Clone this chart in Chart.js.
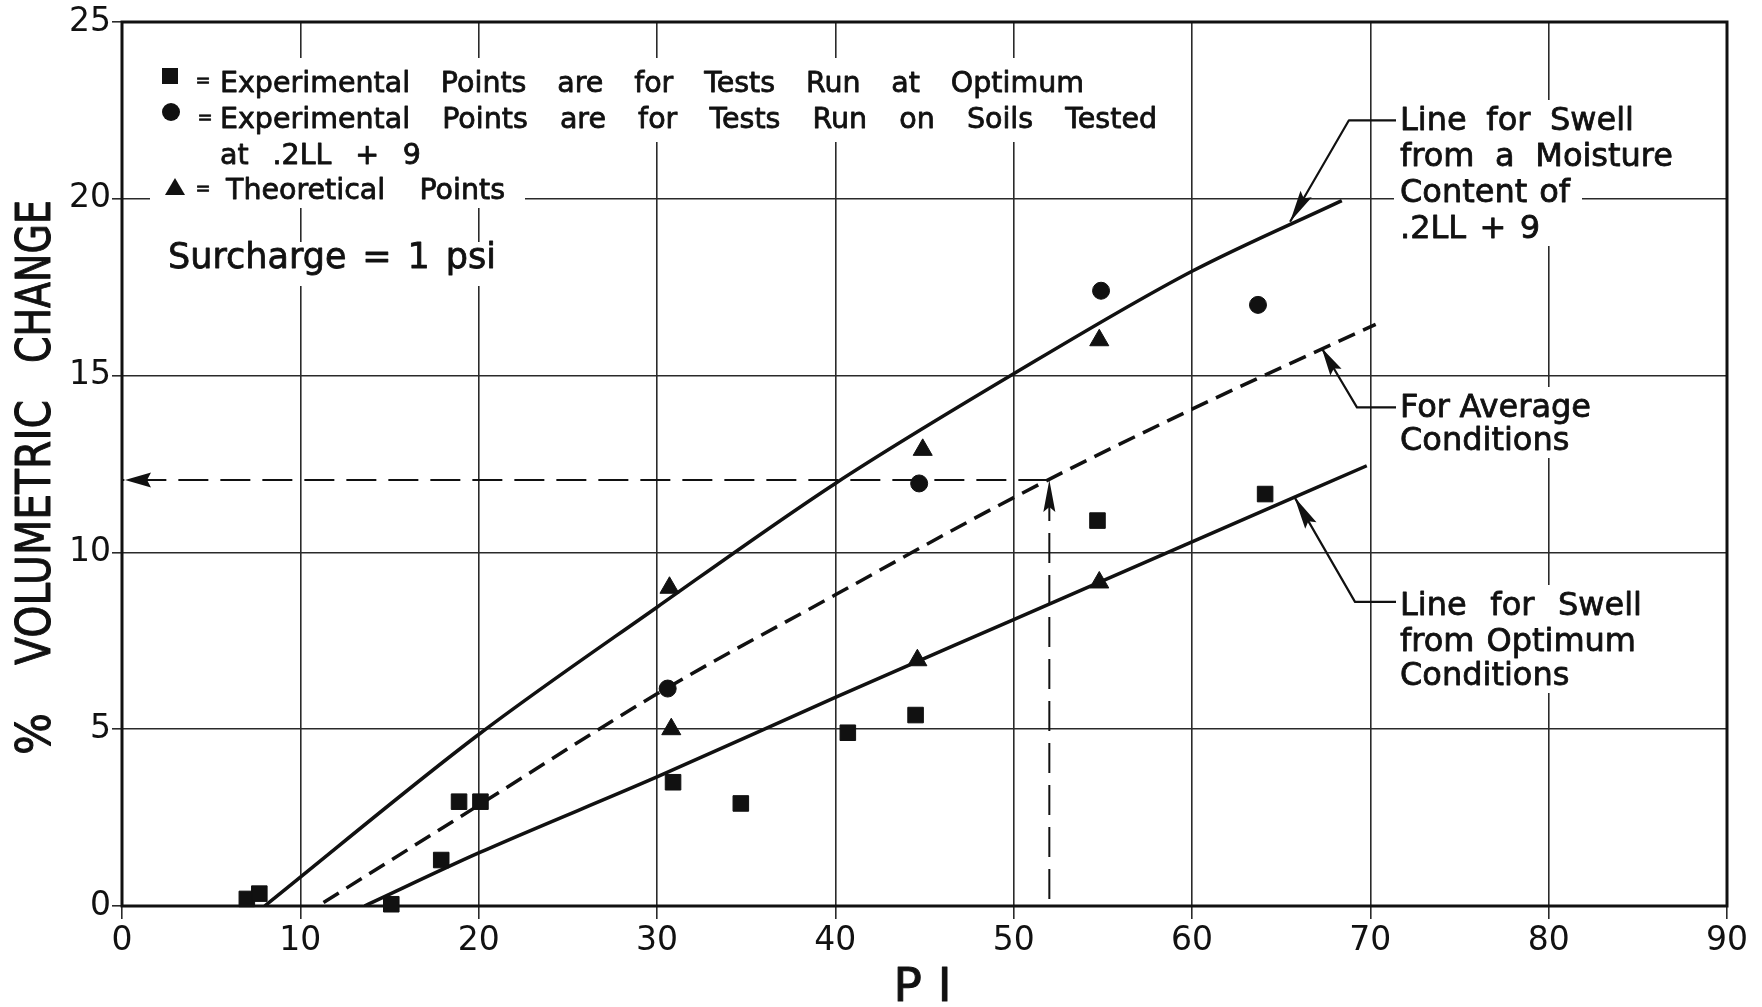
<!DOCTYPE html>
<html>
<head>
<meta charset="utf-8">
<title>% Volumetric change vs PI</title>
<script src="https://cdn.jsdelivr.net/npm/chart.js@4.4.0/dist/chart.umd.min.js"></script>
<style>
  html, body { margin: 0; padding: 0; background: #fff; }
  #swellChart { display: block; }
</style>
</head>
<body>
<canvas id="swellChart" width="1762" height="1007"></canvas>
<script>
// --- THEME ---
const INK = '#111111';
const GRID = '#2a2a2a';
const FONT = "'DejaVu Sans', 'Liberation Sans', sans-serif";

// --- DATA ---
const xTicks = [0, 10, 20, 30, 40, 50, 60, 70, 80, 90];
const yTicks = [0, 5, 10, 15, 20, 25];

// squares: tests run at optimum
const optimumPI  = [7.0, 7.7, 15.1, 17.9, 18.9, 20.1, 30.9, 34.7, 40.7, 44.5, 54.7, 64.1];
const optimumVol = [0.2, 0.35, 0.05, 1.3, 2.95, 2.95, 3.5, 2.9, 4.9, 5.4, 10.9, 11.65];

// circles: tests on soils at .2LL + 9
const moistPI  = [30.6, 44.7, 54.9, 63.7];
const moistVol = [6.15, 11.95, 17.4, 17.0];

// triangles: theoretical points
const theoryPI  = [30.7, 30.8, 44.6, 44.9, 54.8, 54.8];
const theoryVol = [9.0, 5.0, 6.95, 12.9, 9.15, 16.0];

// curves
const upperPI  = [8, 20, 30, 40, 50, 60, 68.4];
const upperVol = [0, 4.85, 8.45, 11.95, 15.05, 17.95, 19.95];
const avgPI    = [11.3, 20, 30, 40, 50, 60, 70.3];
const avgVol   = [0.1, 2.85, 6.0, 8.8, 11.55, 14.05, 16.45];
const lowerPI  = [13.6, 20, 30, 40, 50, 60, 69.8];
const lowerVol = [0, 1.5, 3.65, 5.9, 8.1, 10.3, 12.45];

// example reading: PI 52 -> about 12 %
const readPI  = [52, 52, 0];
const readVol = [0.2, 12.05, 12.05];

// --- ANNOTATION LAYOUT (text in canvas px, leader ends in data units) ---
const LEGEND_ROWS = [
    { mark: 'rect', markAt: [170, 76], eqAt: [203, 86], text: 'Experimental Points are for Tests Run at Optimum', at: [220, 92], width: 864 },
    { mark: 'circle', markAt: [171, 112], eqAt: [205, 123], text: 'Experimental Points are for Tests Run on Soils Tested', at: [220, 128], width: 937 },
    { mark: null, text: 'at .2LL + 9', at: [220, 164], width: 201 },
    { mark: 'triangle', markAt: [175, 188], eqAt: [203, 194], text: 'Theoretical Points', at: [226, 199], width: 279 },
];
const SURCHARGE = { text: 'Surcharge = 1 psi', at: [168, 268], width: 328 };
const LEGEND_MASKS = [[150, 58, 1170, 142], [150, 142, 525, 208], [160, 242, 502, 286]];

const NOTES = [
    { x: 1400, rows: [['Line for Swell', 130, 234], ['from a Moisture', 166, 273], ['Content of', 202, 170], ['.2LL + 9', 238, 140]],
      tip: [65.5, 19.35], elbow: [68.8, 22.22], head: 32 },
    { x: 1400, rows: [['For Average', 417, 191], ['Conditions', 450, 160]],
      tip: [67.27, 15.78], elbow: [69.25, 14.1], head: 28 },
    { x: 1400, rows: [['Line for Swell', 615, 242], ['from Optimum', 651, 236], ['Conditions', 685, 160]],
      tip: [65.74, 11.57], elbow: [69.14, 8.6], head: 33 },
];

const Y_TITLE = [['%', 755, 42], ['VOLUMETRIC', 665, 265], ['CHANGE', 363, 163]];

// --- HELPERS ---
const pts = (xs, ys) => xs.map((x, i) => ({ x: x, y: ys[i] }));

// fill + thin stroke so the lettering looks as heavy as the drafted original
function ink(ctx, text, x, y) {
    ctx.fillText(text, x, y);
    ctx.strokeText(text, x, y);
}

function drawJustified(ctx, text, x, y, width) {
    const words = text.split(' ');
    if (!width || words.length < 2) { ink(ctx, text, x, y); return; }
    const ws = words.map(w => ctx.measureText(w).width);
    const gap = (width - ws.reduce((a, b) => a + b, 0)) / (words.length - 1);
    let cx = x;
    words.forEach((w, i) => { ink(ctx, w, cx, y); cx += ws[i] + gap; });
}

function arrowHead(ctx, tx, ty, fx, fy, len, wid) {
    const a = Math.atan2(ty - fy, tx - fx);
    ctx.save();
    ctx.translate(tx, ty);
    ctx.rotate(a);
    ctx.beginPath();
    ctx.moveTo(0, 0);
    ctx.lineTo(-len, wid / 2);
    ctx.lineTo(-len * 0.85, 0);
    ctx.lineTo(-len, -wid / 2);
    ctx.closePath();
    ctx.fill();
    ctx.restore();
}

function legendMark(ctx, kind, x, y) {
    ctx.beginPath();
    if (kind === 'rect') ctx.rect(x - 8, y - 8, 16, 16);
    if (kind === 'circle') ctx.arc(x, y, 9, 0, Math.PI * 2);
    if (kind === 'triangle') { ctx.moveTo(x, y - 10); ctx.lineTo(x + 10, y + 7); ctx.lineTo(x - 10, y + 7); ctx.closePath(); }
    ctx.fill();
}

// --- PLUGIN: frame, masks, labels, leaders ---
const figureNotes = {
    id: 'figureNotes',
    beforeDatasetsDraw(chart) {
        const { ctx, chartArea: a } = chart;
        ctx.save();
        ctx.fillStyle = '#ffffff';
        LEGEND_MASKS.forEach(([x0, y0, x1, y1]) => ctx.fillRect(x0, y0, x1 - x0, y1 - y0));
        NOTES.forEach(n => n.rows.forEach(([, base, w]) => ctx.fillRect(n.x - 6, base - 30, w + 18, 38)));
        ctx.strokeStyle = INK;
        ctx.lineWidth = 3;
        ctx.strokeRect(a.left, a.top, a.right - a.left, a.bottom - a.top);
        ctx.restore();
    },
    afterDatasetsDraw(chart) {
        const { ctx, chartArea: a, scales: { x, y } } = chart;
        ctx.save();
        ctx.fillStyle = INK;
        ctx.strokeStyle = INK;
        ctx.textAlign = 'left';
        ctx.textBaseline = 'alphabetic';
        ctx.lineJoin = 'round';

        // legend block
        LEGEND_ROWS.forEach(r => {
            ctx.lineWidth = 0.8;
            if (r.mark) {
                legendMark(ctx, r.mark, r.markAt[0], r.markAt[1]);
                ctx.font = `18px ${FONT}`;
                ctx.textAlign = 'center';
                ink(ctx, '=', r.eqAt[0], r.eqAt[1]);
                ctx.textAlign = 'left';
            }
            ctx.font = `28.5px ${FONT}`;
            drawJustified(ctx, r.text, r.at[0], r.at[1], r.width);
        });
        ctx.font = `35px ${FONT}`;
        drawJustified(ctx, SURCHARGE.text, SURCHARGE.at[0], SURCHARGE.at[1], SURCHARGE.width);

        // curve notes with leaders
        NOTES.forEach(n => {
            ctx.font = `32px ${FONT}`;
            ctx.lineWidth = 0.8;
            n.rows.forEach(([t, base, w]) => drawJustified(ctx, t, n.x, base, w));
            const tx = x.getPixelForValue(n.tip[0]), ty = y.getPixelForValue(n.tip[1]);
            const ex = x.getPixelForValue(n.elbow[0]), ey = y.getPixelForValue(n.elbow[1]);
            ctx.lineWidth = 2.2;
            ctx.beginPath();
            ctx.moveTo(n.x - 4, ey);
            ctx.lineTo(ex, ey);
            ctx.lineTo(tx, ty);
            ctx.stroke();
            arrowHead(ctx, tx, ty, ex, ey, n.head, 13);
        });

        // arrowheads on the example reading
        const rp = readPI.map((v, i) => [x.getPixelForValue(v), y.getPixelForValue(readVol[i])]);
        arrowHead(ctx, rp[1][0], rp[1][1], rp[0][0], rp[0][1], 32, 12);
        arrowHead(ctx, rp[2][0] + 3, rp[2][1], rp[1][0], rp[1][1], 26, 15);

        // axis titles
        ctx.font = `48px ${FONT}`;
        ctx.lineWidth = 1;
        Y_TITLE.forEach(([word, bottom, len]) => {
            ctx.save();
            ctx.translate(50, bottom);
            ctx.rotate(-Math.PI / 2);
            ctx.scale(len / ctx.measureText(word).width, 1);
            ink(ctx, word, 0, 0);
            ctx.restore();
        });
        ctx.font = `47px ${FONT}`;
        drawJustified(ctx, 'P I', (a.left + a.right) / 2 - 31, 1001, 58);
        ctx.restore();
    }
};

// --- CHART ---
const markerStyle = { backgroundColor: INK, borderColor: INK, borderWidth: 1, clip: false };
const lineStyle = { showLine: true, borderColor: INK, pointRadius: 0, fill: false };

const swellChart = new Chart(document.getElementById('swellChart').getContext('2d'), {
    type: 'scatter',
    data: {
        datasets: [
            { label: 'Optimum', data: pts(optimumPI, optimumVol), pointStyle: 'rect', pointRadius: 11, ...markerStyle },
            { label: '.2LL + 9', data: pts(moistPI, moistVol), pointStyle: 'circle', pointRadius: 8.5, ...markerStyle },
            { label: 'Theoretical', data: pts(theoryPI, theoryVol), pointStyle: 'triangle', pointRadius: 11, ...markerStyle },
            { label: 'Swell from .2LL + 9', data: pts(upperPI, upperVol), borderWidth: 3.5, cubicInterpolationMode: 'monotone', ...lineStyle },
            { label: 'Average', data: pts(avgPI, avgVol), borderWidth: 3.5, borderDash: [18, 9], cubicInterpolationMode: 'monotone', ...lineStyle },
            { label: 'Swell from optimum', data: pts(lowerPI, lowerVol), borderWidth: 3.5, cubicInterpolationMode: 'monotone', ...lineStyle },
            { label: 'Reading', data: pts(readPI, readVol), borderWidth: 2, borderDash: [30, 12], ...lineStyle },
        ]
    },
    options: {
        responsive: false,
        animation: false,
        events: [],
        layout: { padding: { top: 22, right: 35, left: 0, bottom: 0 } },
        plugins: { legend: { display: false }, tooltip: { enabled: false } },
        scales: {
            x: {
                type: 'linear', min: 0, max: 90,
                afterBuildTicks: s => { s.ticks = xTicks.map(v => ({ value: v })); },
                afterFit: s => { s.height = 101; },
                grid: { color: GRID, lineWidth: 1.6, tickLength: 13, tickColor: GRID, tickWidth: 1.6 },
                border: { display: false },
                ticks: { color: INK, font: { family: FONT, size: 33 }, padding: 3, maxRotation: 0 }
            },
            y: {
                type: 'linear', min: 0, max: 25,
                afterBuildTicks: s => { s.ticks = yTicks.map(v => ({ value: v })); },
                afterFit: s => { s.width = 122; },
                grid: { color: GRID, lineWidth: 1.6, tickLength: 10, tickColor: GRID, tickWidth: 1.6 },
                border: { display: false },
                ticks: { color: INK, font: { family: FONT, size: 33 }, padding: 1 }
            }
        }
    },
    plugins: [figureNotes]
});
</script>
</body>
</html>
